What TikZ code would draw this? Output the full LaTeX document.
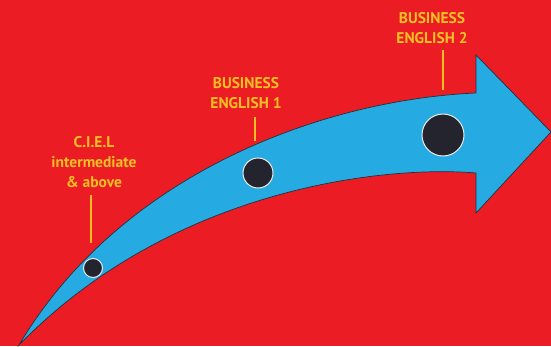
\documentclass[tikz,border=0pt]{standalone}
\usepackage{fontspec}
\setmainfont{PT Sans}
\definecolor{bgred}{RGB}{236,28,36}
\definecolor{arrowblue}{RGB}{38,170,226}
\definecolor{labyellow}{RGB}{246,192,36}
\definecolor{dotdark}{RGB}{36,36,46}
\definecolor{edgedark}{RGB}{30,50,60}
\begin{document}
\begin{tikzpicture}[x=1pt,y=1pt,
  lab/.style={text=labyellow,align=center,anchor=north,inner sep=0pt,
    font=\fontsize{15.5}{20}\selectfont\bfseries},
  tick/.style={draw=labyellow,line width=1.3pt},
  dot/.style={circle,fill=dotdark,draw=white!85!gray,line width=1pt,inner sep=0pt}]
\fill[bgred] (0,0) rectangle (551,346);
\useasboundingbox (0,0) rectangle (551,346);
% arrow
\draw[fill=arrowblue,draw=edgedark,line width=0.7pt,line join=miter]
  (19,1) .. controls (120,171) and (320,246) .. (476,253)
  -- (476,291) -- (551,214) -- (476,133) -- (476,173)
  .. controls (380,181) and (170,156) .. cycle;
% dots
\node[dot,minimum size=19pt] (d1) at (93,78) {};
\node[dot,minimum size=30pt] (d2) at (258,173) {};
\node[dot,minimum size=42pt] (d3) at (443,211) {};
% labels
\node[lab] (t1) at (94,210) {C.I.E.L\\intermediate\\\& above};
\node[lab] (t2) at (246,269) {BUSINESS\\ENGLISH 1};
\node[lab] (t3) at (432,334) {BUSINESS\\ENGLISH 2};
% ticks
\coordinate (a1) at (91,151); \coordinate (b1) at (91,103);
\coordinate (a2) at (255,229); \coordinate (b2) at (255,205);
\coordinate (a3) at (443,296); \coordinate (b3) at (443,256);
\draw[tick] (a1) -- (b1);
\draw[tick] (a2) -- (b2);
\draw[tick] (a3) -- (b3);
\end{tikzpicture}
\end{document}
